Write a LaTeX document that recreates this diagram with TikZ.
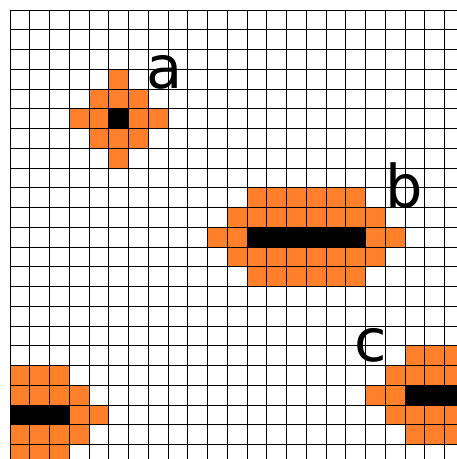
\documentclass[tikz,border=0pt]{standalone}
\usepackage{fontspec}
\setmainfont{DejaVu Sans}
\definecolor{org}{RGB}{255,127,42}
\begin{document}
\begin{tikzpicture}[x=1pt,y=1pt,
  lbl/.style={inner sep=0pt,font=\fontsize{59}{62}\selectfont},
  gridline/.style={black,line width=0.9pt},
  on/.style={fill=org},
  core/.style={fill=black}]
\useasboundingbox (0,0) rectangle (457,-459);
\fill[white] (0,0) rectangle (457,-459);
\begin{scope}
\clip (10,-10) rectangle (457,-459);
\begin{scope}[shift={(10,-10)},x=19.75pt,y=-19.75pt]
% pattern a
\fill[on] (5,3) rectangle (6,4);
\fill[on] (4,4) rectangle (7,5);
\fill[on] (3,5) rectangle (5,6);
\fill[on] (6,5) rectangle (8,6);
\fill[on] (4,6) rectangle (7,7);
\fill[on] (5,7) rectangle (6,8);
\fill[core] (5,5) rectangle (6,6);
% pattern b
\fill[on] (12,9) rectangle (18,10);
\fill[on] (11,10) rectangle (19,11);
\fill[on] (10,11) rectangle (12,12);
\fill[on] (18,11) rectangle (20,12);
\fill[on] (11,12) rectangle (19,13);
\fill[on] (12,13) rectangle (18,14);
\fill[core] (12,11) rectangle (18,12);
% pattern c
\fill[on] (20,17) rectangle (24,18);
\fill[on] (19,18) rectangle (24,19);
\fill[on] (18,19) rectangle (20,20);
\fill[on] (19,20) rectangle (24,21);
\fill[on] (20,21) rectangle (24,22);
\fill[core] (20,19) rectangle (24,20);
% pattern bottom-left
\fill[on] (-1,18) rectangle (3,19);
\fill[on] (-1,19) rectangle (4,20);
\fill[on] (3,20) rectangle (5,21);
\fill[on] (-1,21) rectangle (4,22);
\fill[on] (-1,22) rectangle (3,23);
\fill[core] (-1,20) rectangle (3,21);
% grid
\foreach \i in {0,...,23} {
  \draw[gridline] (\i,0) -- (\i,24);
  \draw[gridline] (0,\i) -- (24,\i);
}
\end{scope}
\end{scope}
\node[lbl] (la) at (165,-72.5) {a};
\node[lbl] (lb) at (404,-185) {b};
\node[lbl] (lc) at (371,-345.5) {c};
\end{tikzpicture}
\end{document}
